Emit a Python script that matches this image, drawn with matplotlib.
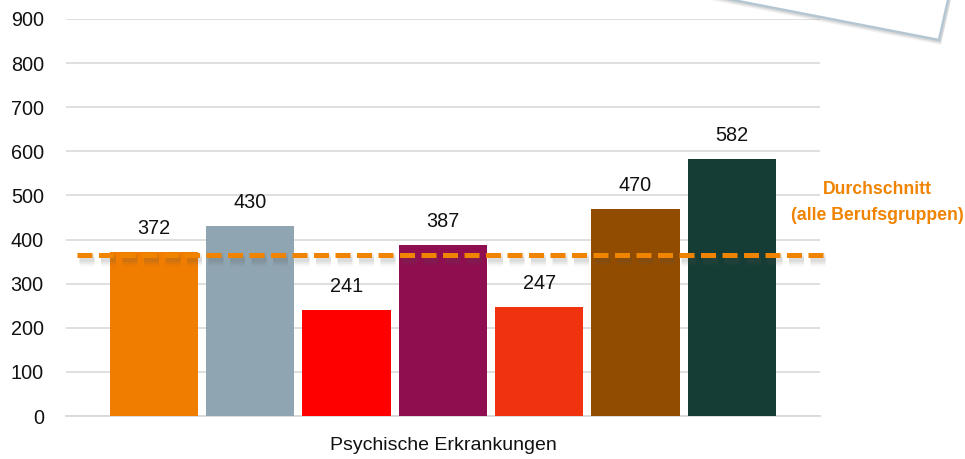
import matplotlib
matplotlib.use("Agg")
import matplotlib.pyplot as plt
from matplotlib.patches import Polygon

plt.rcParams['font.family'] = ['Liberation Sans', 'DejaVu Sans']

category = "Psychische Erkrankungen"
values = [372, 430, 241, 387, 247, 470, 582]
colors = ["#F07D00", "#8FA5B1", "#FF0000", "#8E0E4F", "#F0320F", "#924C00", "#163D35"]
average = 365
avg_label = ["Durchschnitt", "(alle Berufsgruppen)"]
yticks = [0, 100, 200, 300, 400, 500, 600, 700, 800, 900]

W, H = 965, 459
fig = plt.figure(figsize=(W / 100, H / 100), dpi=100)
ax = fig.add_axes([66 / W, 1 - 416 / H, (820 - 66) / W, (416 - 19) / H])

pitch = 96.3
xs = list(range(len(values)))
ax.bar(xs, values, width=88.3 / pitch, color=colors, zorder=3)
for x, v in zip(xs, values):
    ax.annotate(str(v), (x, v), xytext=(0, 10), textcoords="offset points",
                ha="center", va="bottom", fontsize=14.3, color="#111111")

ax.set_xlim((66 - 154) / pitch, (820 - 154) / pitch)
ax.set_ylim(0, 900)
ax.set_yticks(yticks)
ax.set_yticklabels([str(t) for t in yticks], fontsize=14.3, color="#111111")
ax.tick_params(axis="y", length=0, pad=16)
ax.set_xticks([])
for s in ["top", "right", "left"]:
    ax.spines[s].set_visible(False)
ax.spines["bottom"].set_color("#D9D9D9")
ax.spines["bottom"].set_linewidth(1.3)
ax.grid(axis="y", color="#D9D9D9", linewidth=1.2, zorder=0)
ax.set_axisbelow(True)

# average line with soft shadow
x0, x1 = (77 - 154) / pitch, (826 - 154) / pitch
for i, a in enumerate([0.05, 0.07, 0.09]):
    lw = 3.6 + 3 * (2 - i)
    ax.plot([x0 + 0.02, x1 + 0.02], [average - 9, average - 9], color="#555555",
            lw=lw, alpha=a, linestyle=(0, (3 * 3.6 / lw, 1.3 * 3.6 / lw)),
            dash_capstyle="butt", clip_on=False, zorder=4)
ax.plot([x0, x1], [average, average], color="#F08300", lw=3.6,
        linestyle=(0, (3, 1.3)), dash_capstyle="butt", clip_on=False, zorder=5)

fig.text(877 / W, 1 - 190 / H, avg_label[0], ha="center", va="center",
         fontsize=12.7, fontweight="bold", color="#F08300")
fig.text(877 / W, 1 - 216 / H, avg_label[1], ha="center", va="center",
         fontsize=12.7, fontweight="bold", color="#F08300")

fig.text(443 / W, 1 - 446 / H, category, ha="center", va="center",
         fontsize=14, color="#111111")

# rotated callout box corner at top right
def fpts(pts):
    return [(px / W, 1 - py / H) for px, py in pts]

box = [(733 - 200, -40), (733, 0), (939, 40), (948, 0), (955, -40)]
for k, a in enumerate([0.06, 0.08, 0.10]):
    off = 5 - k
    shadow = [(px + 2, py + off) for px, py in box]
    fig.patches.append(Polygon(fpts(shadow), closed=True, transform=fig.transFigure,
                               facecolor="#555555", edgecolor="none", alpha=a, zorder=8))
fig.patches.append(Polygon(fpts(box), closed=True, transform=fig.transFigure,
                           facecolor="white", edgecolor="#B4C6D2", linewidth=1.8, zorder=9))

fig.savefig("out.png", dpi=100)
